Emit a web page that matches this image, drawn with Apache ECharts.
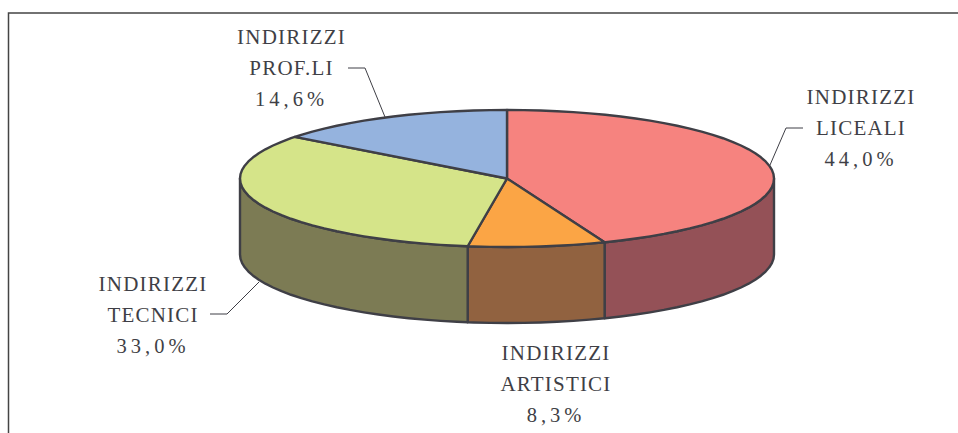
<!DOCTYPE html>
<html><head><meta charset="utf-8">
<style>
html,body{margin:0;padding:0;background:#fff}
#c{width:958px;height:433px}
#c svg text{letter-spacing:1.2px}
#c svg text[style*="20.5px"]{letter-spacing:4px}
</style>
<script src="https://cdn.jsdelivr.net/npm/echarts@6/dist/echarts.min.js"></script>
</head><body><div id="c"></div>
<script>
const categories = ['INDIRIZZI\nLICEALI', 'INDIRIZZI\nARTISTICI', 'INDIRIZZI\nTECNICI', 'INDIRIZZI\nPROF.LI'];
const values = [44.0, 8.3, 33.0, 14.6];
const valueLabels = ['44,0%', '8,3%', '33,0%', '14,6%'];
const topColors = ['#F6837F', '#FBA545', '#D5E489', '#95B3DE'];
const wallColors = ['#945157', '#916240', '#7C7B54', '#5A6B85'];

const cx = 507, cy = 178.5, rx = 267, ry = 68.5, depth = 76, step = 3.6;
const ink = '#3f3f46';
const total = values.reduce((a, b) => a + b, 0);
const pt = (deg, dy) => {
  const r = deg * Math.PI / 180;
  return [cx + rx * Math.sin(r), cy - ry * Math.cos(r) + (dy || 0)];
};
const arc = (a0, a1, dy) => {
  const out = [];
  const first = Math.ceil(a0 / step) * step;
  out.push(pt(a0, dy));
  for (let a = first; a < a1; a += step) if (a > a0) out.push(pt(a, dy));
  out.push(pt(a1, dy));
  return out;
};
const range = i => {
  let s = 0;
  for (let k = 0; k < i; k++) s += values[k];
  return [s / total * 360, (s + values[i]) / total * 360];
};
const data = values.map((v, i) => ({ name: categories[i].replace('\n', ' '), value: v }));

function renderWall(params) {
  const [a0, a1] = range(params.dataIndex);
  const s = Math.max(a0, 90), e = Math.min(a1, 270);
  if (e <= s) return { type: 'group', children: [] };
  const pts = arc(s, e, 0).concat(arc(s, e, depth).reverse());
  return { type: 'polygon', shape: { points: pts },
    style: { fill: wallColors[params.dataIndex], stroke: ink, lineWidth: 2.4, lineJoin: 'round' } };
}
function renderTop(params) {
  const [a0, a1] = range(params.dataIndex);
  const pts = [[cx, cy]].concat(arc(a0, a1, 0));
  return { type: 'polygon', shape: { points: pts },
    style: { fill: topColors[params.dataIndex], stroke: ink, lineWidth: 2.4, lineJoin: 'round' } };
}
/* label placement per slice: text centre, first baseline, leader anchor */
const placement = [
  { x: 861, y: 107, leader: [[803, 128], [786, 128], [770, 165]] },
  { x: 556, y: 363 },
  { x: 153, y: 294, leader: [[210, 314], [227, 314], [259, 282]] },
  { x: 291.5, y: 47, leader: [[348, 68], [365, 68], [385, 117]] }
];
function renderLabel(params) {
  const i = params.dataIndex, p = placement[i], lines = categories[i].split('\n').concat(valueLabels[i]);
  const children = lines.map((t, k) => ({
    type: 'text',
    style: { text: t, x: p.x, y: p.y + k * 31, fill: ink, textAlign: 'center', textVerticalAlign: 'bottom',
      font: (k === 2 ? '20.5px' : '21px') + ' "Liberation Serif"' }
  }));
  if (p.leader) children.push({ type: 'polyline', shape: { points: p.leader },
    style: { fill: 'none', stroke: ink, lineWidth: 1 } });
  return { type: 'group', children };
}
const chart = echarts.init(document.getElementById('c'), null, { renderer: 'svg' });
chart.setOption({
  animation: false,
  backgroundColor: '#fff',
  graphic: [{ type: 'polyline', silent: true,
    shape: { points: [[8.5, 433], [8.5, 13], [958, 13]] },
    style: { fill: 'none', stroke: '#444', lineWidth: 1.5 } }],
  series: [
    { type: 'custom', coordinateSystem: 'none', renderItem: renderWall, data, silent: true, z: 2 },
    { type: 'custom', coordinateSystem: 'none', renderItem: renderTop, data, silent: true, z: 3 },
    { type: 'custom', coordinateSystem: 'none', renderItem: renderLabel, data, silent: true, z: 4 }
  ]
});
</script></body></html>
